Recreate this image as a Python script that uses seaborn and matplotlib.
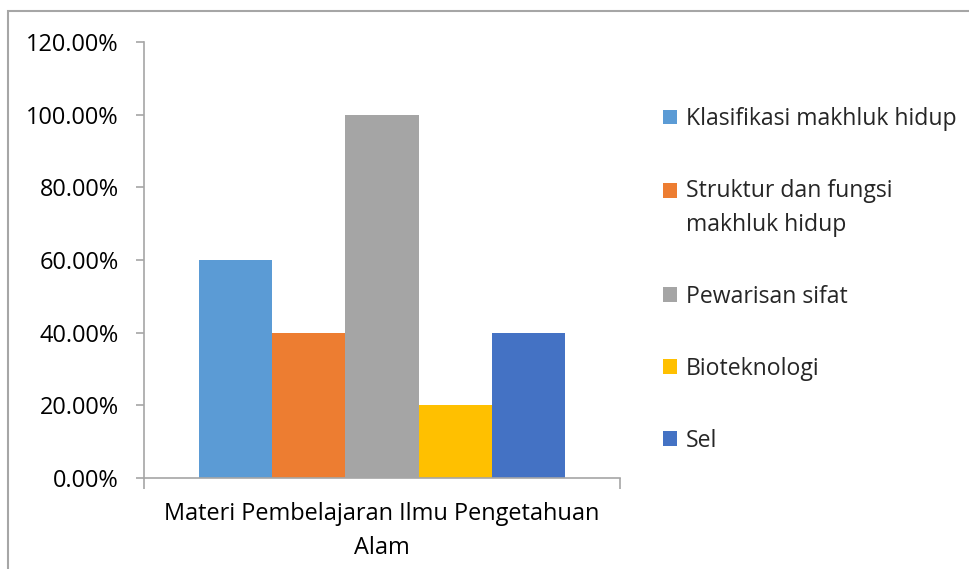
import matplotlib
matplotlib.use("Agg")
import matplotlib.pyplot as plt
from matplotlib.patches import Rectangle
from matplotlib.legend_handler import HandlerPatch
from matplotlib.ticker import PercentFormatter
import pandas as pd
import seaborn as sns

# data
categories = ["Materi Pembelajaran Ilmu Pengetahuan\nAlam"]
series = [
    "Klasifikasi makhluk hidup",
    "Struktur dan fungsi\nmakhluk hidup",
    "Pewarisan sifat",
    "Bioteknologi",
    "Sel",
]
values = [0.60, 0.40, 1.00, 0.20, 0.40]
colors = ["#5B9BD5", "#ED7D31", "#A5A5A5", "#FFC000", "#4472C4"]

df = pd.DataFrame({
    "materi": categories * len(series),
    "topik": series,
    "nilai": values,
})

sns.set_theme(style="white")
plt.rcParams["font.family"] = ["Open Sans", "DejaVu Sans"]
FS = 16.9
LEG_FS = 16.6
GRAY = "#A6A6A6"

fig = plt.figure(figsize=(9.7, 5.69), dpi=100)
ax = fig.add_axes([144 / 970, 1 - 478 / 569, 476 / 970, 436 / 569])

sns.barplot(data=df, x="materi", y="nilai", hue="topik", hue_order=series,
            palette=colors, saturation=1, width=0.771, linewidth=0,
            edgecolor="none", ax=ax)

ax.set_xlim(-0.5, 0.5)
ax.set_ylim(0, 1.2)
ax.set_yticks([0, 0.2, 0.4, 0.6, 0.8, 1.0, 1.2])
ax.yaxis.set_major_formatter(PercentFormatter(xmax=1, decimals=2))
ax.set_xlabel("")
ax.set_ylabel("")

for s in ["top", "right"]:
    ax.spines[s].set_visible(False)
for s in ["left", "bottom"]:
    ax.spines[s].set_color(GRAY)
    ax.spines[s].set_linewidth(1.2)

ax.tick_params(axis="y", which="major", length=6, width=1.2, color=GRAY,
               labelsize=FS, labelcolor="black", pad=12, left=True)
ax.tick_params(axis="x", which="major", length=0, labelsize=FS,
               labelcolor="black", pad=17)
ax.set_xticks([-0.5, 0.5], minor=True)
ax.tick_params(axis="x", which="minor", length=8, width=1.2, color=GRAY,
               bottom=True)
for t in ax.get_xticklabels():
    t.set_multialignment("center")
    t.set_linespacing(1.55)


def top_aligned(legend, orig_handle, xdescent, ydescent, width, height, fontsize):
    # move the square up to the first line of a wrapped label
    return Rectangle((-xdescent, -ydescent + fontsize * 0.78), width, height)


handles, labels = ax.get_legend_handles_labels()
hmap = {handles[1]: HandlerPatch(patch_func=top_aligned)}
leg = ax.legend(handles, labels, loc="upper left",
                bbox_to_anchor=(663 / 970, 1 - 107 / 569),
                bbox_transform=fig.transFigure, frameon=False, fontsize=LEG_FS,
                handlelength=0.6, handleheight=0.6, handletextpad=0.4,
                labelspacing=2.08, borderpad=0, borderaxespad=0,
                handler_map=hmap)
for t in leg.get_texts():
    t.set_linespacing(1.55)

# outer chart frame (only left and top edges are visible in the crop)
fig.add_artist(Rectangle((8.5 / 970, -0.1), 1.2, 1.1 - 11.5 / 569,
                         transform=fig.transFigure, fill=False,
                         edgecolor=GRAY, linewidth=1.5, clip_on=False))

fig.savefig("out.png", dpi=100)
